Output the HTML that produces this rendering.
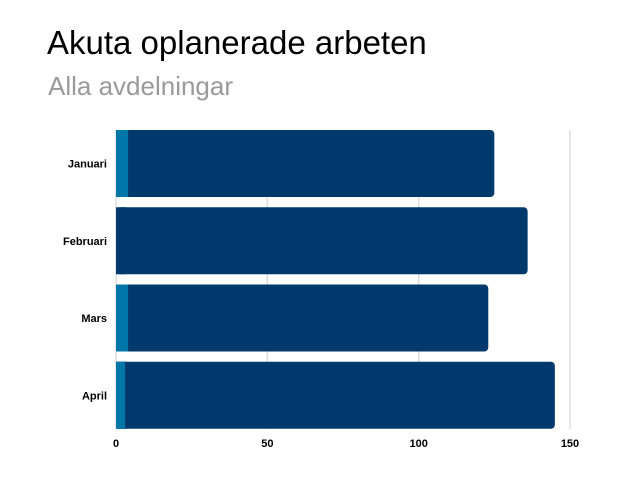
<!DOCTYPE html>
<html><head><meta charset="utf-8"><style>
body{margin:0;background:#fff;font-family:"Liberation Sans",sans-serif;}
</style></head><body>
<svg width="640" height="480" id="c">
<text x="47" y="54" font-size="33" fill="#000">Akuta oplanerade arbeten</text>
<text x="48" y="95" font-size="26" fill="#9a9a9a">Alla avdelningar</text>
<g id="grid"></g><g id="bars"></g><g id="labels"></g>
</svg>
<script>
const categories=["Januari","Februari","Mars","April"];
const seriesLight=[4,0,4,3];
const seriesDark=[121,136,119,142];
const ticks=[0,50,100,150];
const NS="http://www.w3.org/2000/svg";
const x0=116,x1=570,maxV=150,plotTop=130,bandH=77.25,barH=67;
const xs=v=>x0+v*(x1-x0)/maxV;
function mk(t,a,p){const e=document.createElementNS(NS,t);for(const k in a)e.setAttribute(k,a[k]);p.appendChild(e);return e;}
const grid=document.getElementById('grid'),bars=document.getElementById('bars'),labels=document.getElementById('labels');
ticks.forEach(t=>{
 const l=mk('line',{x1:xs(t),x2:xs(t),y1:plotTop,y2:429,stroke:'#dddddd','stroke-width':1.5},grid);
 
 
 const tx=mk('text',{x:xs(t),y:447,'font-size':11,'font-weight':'bold','text-anchor':'middle',fill:'#000'},labels);
 tx.textContent=t;
 
 
});
categories.forEach((c,i)=>{
 const y=plotTop+i*bandH;
 const tot=seriesLight[i]+seriesDark[i];
 const d=mk('rect',{x:xs(0),y:y,width:xs(tot)-xs(0),height:barH,rx:4,fill:'#003a6c'},bars);
 
 
 const d2=mk('rect',{x:xs(0),y:y,width:10,height:barH,fill:'#003a6c'},bars);
 
 
 if(seriesLight[i]>0){
  const l=mk('rect',{x:xs(0),y:y,width:xs(seriesLight[i])-xs(0),height:barH,fill:'#0077a8'},bars);
  
  
 }
 const t=mk('text',{x:107,y:y+barH/2+4,'font-size':11,'font-weight':'bold','text-anchor':'end',fill:'#000'},labels);
 t.textContent=c;
 
 
});
</script>
</body></html>
